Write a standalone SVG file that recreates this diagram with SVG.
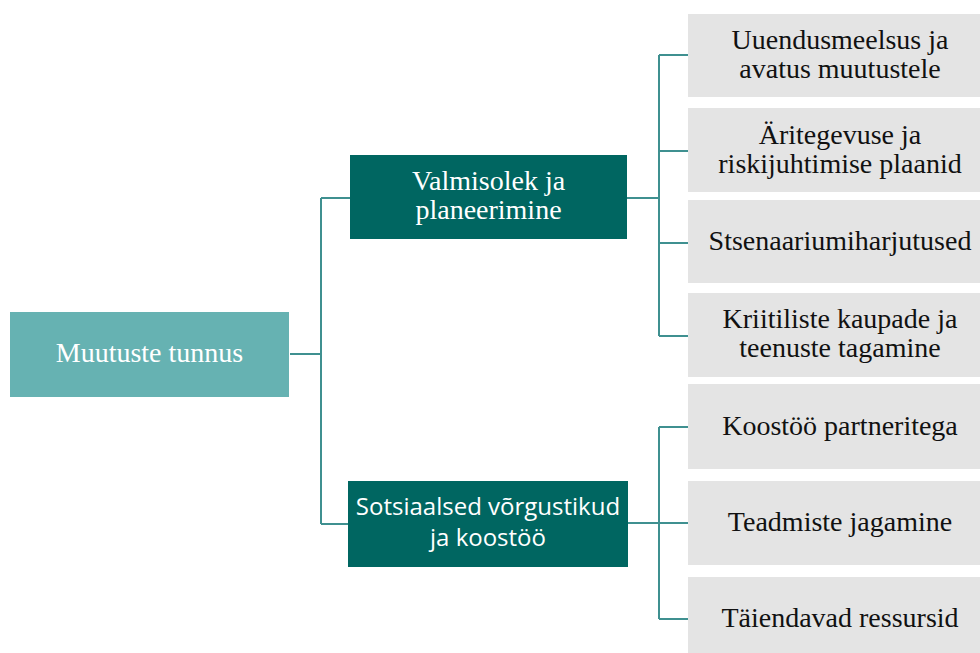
<svg xmlns="http://www.w3.org/2000/svg" width="980" height="653" viewBox="0 0 980 653">
  <style>
    .root { fill: #66b2b2; }
    .branch { fill: #006661; }
    .leaf { fill: #e4e4e4; }
    .t-serif { font-family: "Liberation Serif", "Times New Roman", serif; font-size: 28px; text-anchor: middle; }
    .t-sans { font-family: "Open Sans", "Liberation Sans", sans-serif; font-size: 24px; text-anchor: middle; }
    .light { fill: #ffffff; }
    .dark { fill: #111111; }
    .conn { fill: none; stroke: #3f9090; stroke-width: 2; }
  </style>

  <g id="connectors">
    <!-- root to branches -->
    <path class="conn" d="M290 354 H321 M321 198 V524 M321 198 H350 M321 524 H348"/>
    <!-- first branch to its items -->
    <path class="conn" d="M627 198 H659 M659 55 V336 M659 55 H688 M659 151 H688 M659 243 H688 M659 336 H688"/>
    <!-- second branch to its items -->
    <path class="conn" d="M628 523 H659 M659 427 V619 M659 427 H688 M659 523 H688 M659 619 H688"/>
  </g>

  <g id="node-root">
    <rect class="root" x="10" y="312" width="279" height="85"/>
    <text class="t-serif light" x="149.5" y="362">Muutuste tunnus</text>
  </g>

  <g id="node-valmisolek">
    <rect class="branch" x="350" y="155" width="277" height="84"/>
    <text class="t-serif light" x="488.5" y="190">Valmisolek ja</text>
    <text class="t-serif light" x="488.5" y="219">planeerimine</text>
  </g>

  <g id="node-sotsiaalsed">
    <rect class="branch" x="348" y="481" width="280" height="86"/>
    <text class="t-sans light" x="488" y="515">Sotsiaalsed võrgustikud</text>
    <text class="t-sans light" x="488" y="546">ja koostöö</text>
  </g>

  <g id="node-uuendusmeelsus">
    <rect class="leaf" x="688" y="14" width="300" height="83"/>
    <text class="t-serif dark" x="840" y="49">Uuendusmeelsus ja</text>
    <text class="t-serif dark" x="840" y="78">avatus muutustele</text>
  </g>

  <g id="node-aritegevus">
    <rect class="leaf" x="688" y="108" width="300" height="84"/>
    <text class="t-serif dark" x="840" y="144">Äritegevuse ja</text>
    <text class="t-serif dark" x="840" y="173">riskijuhtimise plaanid</text>
  </g>

  <g id="node-stsenaarium">
    <rect class="leaf" x="688" y="200" width="300" height="83"/>
    <text class="t-serif dark" x="840" y="250">Stsenaariumiharjutused</text>
  </g>

  <g id="node-kriitilised">
    <rect class="leaf" x="688" y="293" width="300" height="84"/>
    <text class="t-serif dark" x="840" y="328">Kriitiliste kaupade ja</text>
    <text class="t-serif dark" x="840" y="357">teenuste tagamine</text>
  </g>

  <g id="node-koostoo">
    <rect class="leaf" x="688" y="384" width="300" height="85"/>
    <text class="t-serif dark" x="840" y="435">Koostöö partneritega</text>
  </g>

  <g id="node-teadmised">
    <rect class="leaf" x="688" y="481" width="300" height="84"/>
    <text class="t-serif dark" x="840" y="531">Teadmiste jagamine</text>
  </g>

  <g id="node-ressursid">
    <rect class="leaf" x="688" y="577" width="300" height="76"/>
    <text class="t-serif dark" x="840" y="627">Täiendavad ressursid</text>
  </g>
</svg>
